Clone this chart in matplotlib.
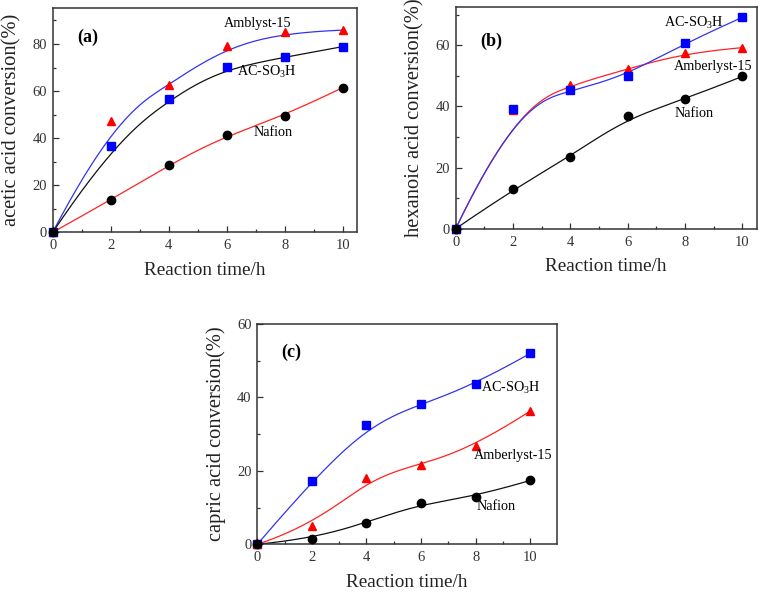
import numpy as np
import matplotlib
matplotlib.use("Agg")
import matplotlib.pyplot as plt

plt.rcParams['font.family'] = ['Liberation Serif', 'DejaVu Serif']
plt.rcParams['mathtext.fontset'] = 'custom'
plt.rcParams['mathtext.rm'] = 'Liberation Serif'
plt.rcParams['mathtext.it'] = 'Liberation Serif:italic'

# ---------------- data ----------------
time_h = [0, 2, 4, 6, 8, 10]

# (a) acetic acid
a_amberlyst = [0, 47.1, 62.6, 79.3, 84.9, 85.9]
a_acso3h = [0, 36.7, 56.7, 70.4, 74.3, 78.9]
a_nafion = [0, 13.7, 28.6, 41.4, 49.5, 61.5]

# (b) hexanoic acid
b_acso3h = [0, 39.3, 45.2, 49.9, 60.8, 69.1]
b_amberlyst = [0, 38.8, 47.1, 52.1, 57.6, 59.2]
b_nafion = [0, 12.9, 23.4, 36.8, 42.3, 49.8]

# (c) capric acid
c_acso3h = [0, 17.3, 32.4, 38.1, 43.6, 52.0]
c_amberlyst = [0, 4.9, 18.0, 21.7, 26.7, 36.3]
c_nafion = [0, 1.5, 5.9, 11.2, 13.0, 17.4]

x_ticks = [0, 2, 4, 6, 8, 10]


def bspline(xs, ys, npts=300, k=3):
    """Clamped uniform B-spline through control points (Origin 'B-Spline' connect)."""
    P = np.column_stack([xs, ys]).astype(float)
    n = len(P)
    inner = np.arange(1, n - k)
    knots = np.concatenate([np.zeros(k + 1), inner, np.full(k + 1, n - k)]).astype(float)
    t = np.linspace(0, n - k, npts)
    t[-1] -= 1e-9

    def N(i, p, tt):
        if p == 0:
            return np.where((knots[i] <= tt) & (tt < knots[i + 1]), 1.0, 0.0)
        d1 = knots[i + p] - knots[i]
        d2 = knots[i + p + 1] - knots[i + 1]
        a = (tt - knots[i]) / d1 * N(i, p - 1, tt) if d1 > 0 else 0.0
        b = (knots[i + p + 1] - tt) / d2 * N(i + 1, p - 1, tt) if d2 > 0 else 0.0
        return a + b

    B = np.array([N(i, k, t) for i in range(n)])
    C = B.T @ P
    return C[:, 0], C[:, 1]


W, H = 765, 593
fig = plt.figure(figsize=(W / 100, H / 100), dpi=100)


def make_ax(left, right, top, bottom):
    return fig.add_axes([left / W, (H - bottom) / H, (right - left) / W, (bottom - top) / H])


ax_a = make_ax(52.7, 356.7, 8, 232.3)
ax_b = make_ax(455.7, 756.7, 7.3, 228.7)
ax_c = make_ax(257.3, 557, 324, 544.3)

spine_col = '#333333'
ms = 6.0
ann_fs = 10.2


def style(ax, ylabel, ylim, yticks, xlim):
    ax.set_xlim(*xlim)
    ax.set_ylim(*ylim)
    ax.set_xticks(x_ticks)
    ax.set_xticks([1, 3, 5, 7, 9], minor=True)
    ax.set_yticks(yticks)
    ax.set_yticks([v + 10 for v in yticks if v + 10 < ylim[1]], minor=True)
    ax.tick_params(which='both', direction='in', top=False, right=False,
                   labelsize=10.5, colors=spine_col, width=0.9)
    ax.tick_params(which='major', length=4)
    ax.tick_params(axis='x', which='major', pad=5)
    ax.tick_params(axis='y', which='major', pad=4)
    ax.tick_params(which='minor', length=2.5)
    for s in ax.spines.values():
        s.set_color(spine_col)
        s.set_linewidth(1.1)
    ax.set_xlabel('Reaction time/h', fontsize=13.8, color='#222222', labelpad=7)
    ax.set_ylabel(ylabel, fontsize=14.8, color='#222222', labelpad=8)


def series(ax, ys, mcol, lcol, marker):
    sx, sy = bspline(time_h, ys)
    ax.plot(sx, sy, color=lcol, lw=0.9, zorder=2, clip_on=False)
    ax.plot(time_h, ys, ls='none', marker=marker, color=mcol, ms=ms, zorder=3, clip_on=False)


# (a)
series(ax_a, a_amberlyst, '#ff0000', '#3333ee', '^')
series(ax_a, a_acso3h, '#0000ff', '#111111', 's')
series(ax_a, a_nafion, '#000000', '#ff2222', 'o')
style(ax_a, 'acetic acid conversion(%)', (0, 95.3), [0, 20, 40, 60, 80], (0, 10.48))
ax_a.text(0.83, 82.7, '(a)', fontsize=13, fontweight='bold', va='center')
ax_a.text(7.07, 88.9, 'Amblyst-15', fontsize=ann_fs, ha='center', va='center')
ax_a.text(7.38, 68.2, 'AC-SO$_3$H', fontsize=ann_fs, ha='center', va='center')
ax_a.text(7.6, 42.2, 'Nafion', fontsize=ann_fs, ha='center', va='center')

# (b)
series(ax_b, b_amberlyst, '#ff0000', '#ff2222', '^')
series(ax_b, b_acso3h, '#0000ff', '#3333ee', 's')
series(ax_b, b_nafion, '#000000', '#111111', 'o')
style(ax_b, 'hexanoic acid conversion(%)', (0, 72.4), [0, 20, 40, 60], (0, 10.5))
ax_b.text(0.85, 61.4, '(b)', fontsize=13, fontweight='bold', va='center')
ax_b.text(8.29, 67.4, 'AC-SO$_3$H', fontsize=ann_fs, ha='center', va='center')
ax_b.text(8.99, 53.0, 'Amberlyst-15', fontsize=ann_fs, ha='center', va='center')
ax_b.text(8.33, 37.7, 'Nafion', fontsize=ann_fs, ha='center', va='center')

# (c)
series(ax_c, c_acso3h, '#0000ff', '#3333ee', 's')
series(ax_c, c_amberlyst, '#ff0000', '#ff2222', '^')
series(ax_c, c_nafion, '#000000', '#111111', 'o')
style(ax_c, 'capric acid conversion(%)', (0, 60), [0, 20, 40, 60], (0, 10.98))
ax_c.text(0.89, 52.4, '(c)', fontsize=13, fontweight='bold', va='center')
ax_c.text(9.27, 42.5, 'AC-SO$_3$H', fontsize=ann_fs, ha='center', va='center')
ax_c.text(9.36, 24.2, 'Amberlyst-15', fontsize=ann_fs, ha='center', va='center')
ax_c.text(8.75, 10.3, 'Nafion', fontsize=ann_fs, ha='center', va='center')

fig.savefig('out.png', dpi=100)
